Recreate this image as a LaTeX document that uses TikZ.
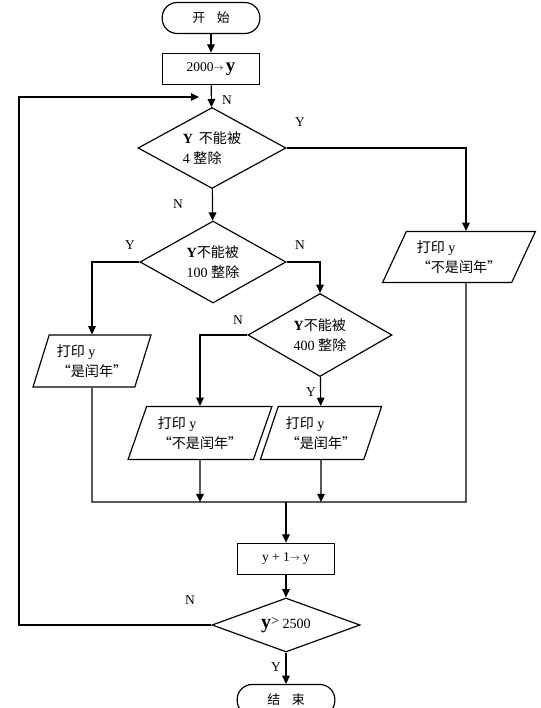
\documentclass[tikz,border=0pt]{standalone}
\usepackage{fontspec}
\setmainfont{Liberation Serif}
\newfontfamily\cjk{Noto Sans CJK SC}
\usetikzlibrary{shapes.geometric,arrows.meta}

\begin{document}
\begin{tikzpicture}[x=0.03cm,y=-0.03cm]
%\draw[help lines,step=20] (0,0) grid (541,708);
\useasboundingbox (0,0) rectangle (541,708);
\tikzset{
line/.style	= {line width=1pt},
arr/.style	= {line width=1pt,-{Triangle[length=7pt,width=6.5pt]}},
term/.style	= {draw,line width=1pt,rounded corners=0.45cm,
		minimum width=2.93cm,minimum height=0.93cm,
		font=\fontsize{11}{12}\selectfont},
proc/.style	= {draw,line width=1pt,minimum width=2.93cm,minimum height=0.95cm,
		font=\fontsize{11.5}{12}\selectfont},
test/.style	= {draw,diamond,aspect=2,inner sep=0pt,line width=1pt,align=left,
		font=\fontsize{12}{17}\selectfont},
io/.style	= {draw,trapezium,trapezium stretches=true,line width=1pt,
		inner sep=0pt,align=left,font=\fontsize{12}{17}\selectfont},
lab/.style	= {font=\fontsize{11.5}{12}\selectfont}
}

% steps
\node[term] (start) at (211,18) {\cjk 开\hspace{0.9em}始};
\node[proc] (init) at (211,69) {2000\raisebox{1pt}{$\scriptstyle\rightarrow$}\,{\bfseries\fontsize{16}{16}\selectfont y}};
\node[test,minimum width=4.44cm,minimum height=2.43cm] (mod4) at (212,148)
	{{\bfseries Y}\, {\cjk 不能被}\\4 {\cjk 整除}};
\node[test,minimum width=4.38cm,minimum height=2.46cm] (mod100) at (213,262)
	{{\bfseries Y}{\cjk 不能被}\\100 {\cjk 整除}};
\node[test,minimum width=4.32cm,minimum height=2.49cm] (mod400) at (320,335)
	{{\bfseries Y}{\cjk 不能被}\\400 {\cjk 整除}};
\node[io,trapezium left angle=60,trapezium right angle=120,
	minimum width=4.59cm,minimum height=1.53cm] (printNo) at (459,257)
	{{\cjk 打印} y\\{\cjk “不是闰年”}};
\node[io,trapezium left angle=68,trapezium right angle=112,
	minimum width=3.57cm,minimum height=1.56cm] (printYesA) at (92,361)
	{{\cjk 打印} y\\{\cjk “是闰年”}};
\node[io,trapezium left angle=66,trapezium right angle=114,
	minimum width=4.32cm,minimum height=1.59cm] (printNoB) at (200,433)
	{{\cjk 打印} y\\{\cjk “不是闰年”}};
\node[io,trapezium left angle=66,trapezium right angle=114,
	minimum width=3.66cm,minimum height=1.59cm] (printYesB) at (321,433)
	{{\cjk 打印} y\\{\cjk “是闰年”}};
\node[proc] (incr) at (286,559) {y + 1\raisebox{1pt}{$\scriptstyle\rightarrow$} y};
\node[test,aspect=2.7,minimum width=4.44cm,minimum height=1.62cm] (limit) at (286,625)
	{{\bfseries\fontsize{17}{17}\selectfont y}\raisebox{2pt}{>} 2500};
\node[term] (stop) at (286,700) {\cjk 结\hspace{0.9em}束};

% joins
\coordinate (joinL) at (92,502);
\coordinate (joinR) at (466,502);
\coordinate (joinM) at (286,502);
\coordinate (loopTop) at (19,97);
\coordinate (back) at (199,97);

\draw[arr] (start) -- (init);
\draw[arr] (init) -- (mod4);
\draw[arr] (mod4.east) -| ([xshift=0.21cm]printNo.north);
\draw[arr] (mod4) -- (mod100);
\draw[arr] (mod100.west) -| (printYesA.north);
\draw[arr] (mod100.east) -| (mod400.north);
\draw[arr] (mod400.west) -| (printNoB.north);
\draw[arr] (mod400) -- (printYesB);
\draw[line] (printYesA.south) -- (joinL) -- (joinR) -- ([xshift=0.21cm]printNo.south);
\draw[arr] (printNoB) -- (printNoB |- joinL);
\draw[arr] (printYesB) -- (printYesB |- joinL);
\draw[arr] (joinM) -- (incr);
\draw[arr] (incr) -- (limit);
\draw[arr] (limit) -- (stop);
\draw[arr] (limit.west) -- (limit.west -| loopTop) -- (loopTop) -- (back);

% labels
\node[lab] (n1) at (227,100) {N};
\node[lab] (y1) at (300,122) {Y};
\node[lab] (n2) at (178,204) {N};
\node[lab] (y2) at (130,245) {Y};
\node[lab] (n3) at (300,245) {N};
\node[lab] (n4) at (238,320) {N};
\node[lab] (y3) at (311,392) {Y};
\node[lab] (n5) at (190,600) {N};
\node[lab] (y4) at (276,667) {Y};
\end{tikzpicture}
\end{document}
